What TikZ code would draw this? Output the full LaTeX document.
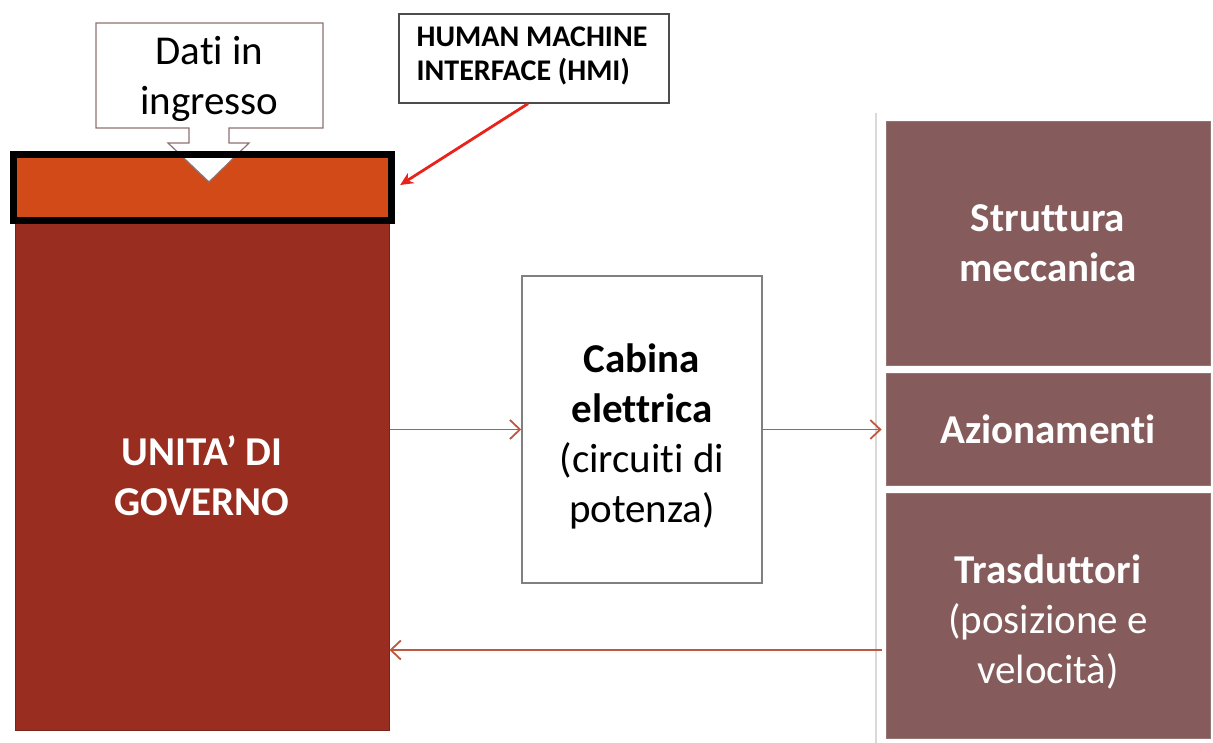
\documentclass[tikz,border=0pt]{standalone}
\usepackage{fontspec}
\setmainfont{Carlito}[Ligatures=NoCommon]
\usetikzlibrary{arrows.meta}
\definecolor{govred}{HTML}{992D1F}
\definecolor{hmiorange}{HTML}{D14A17}
\definecolor{plant}{HTML}{855C5B}
\definecolor{flow}{HTML}{C0573F}
\definecolor{calloutedge}{HTML}{8E7272}
\definecolor{hmired}{HTML}{E8231C}
\begin{document}
\begin{tikzpicture}[x=1pt,y=-1pt,
  big/.style={font=\fontsize{41}{50}\selectfont, align=center},
  block/.style={rectangle, inner sep=0pt},
  plantbox/.style={block, fill=plant, draw=plant!85!white, line width=0.8pt,
    minimum width=324pt, text=white, big},
  flowarrow/.style={draw=flow, line width=1.8pt,
    -{Straight Barb[length=10pt,width=19pt,line width=1.8pt]}},
  hmiarrow/.style={draw=hmired, line width=2.8pt,
    -{Stealth[length=13pt,width=12pt]}}]
\useasboundingbox (0,0) rectangle (1213,743);

% control unit
\node[block, fill=govred, draw=govred!80!black, line width=1pt,
  minimum width=374pt, minimum height=508pt, text=white, big] (gov)
  at (202,476) {\bfseries UNITA’ DI\\\bfseries GOVERNO};

% HMI strip (fill first, frame drawn after the callout)
\node[block, fill=hmiorange, minimum width=378pt, minimum height=66pt]
  (hmibar) at (202.5,187.5) {};

% input callout
\path[fill=white, draw=calloutedge, line width=1.2pt, line join=miter]
  (96,23) -- (323,23) -- (323,128) -- (229,128) -- (229,143) -- (249,143)
  -- (209,182) -- (168,143) -- (189,143) -- (189,128) -- (96,128) -- cycle;
\node[big] (dati) at (209.5,79) {Dati in\\ingresso};

\draw[line width=7pt] (hmibar.north west) rectangle (hmibar.south east);

% HMI label
\node[block, draw=black!70, line width=1.3pt, minimum width=270pt,
  minimum height=89pt] (hmi) at (534,58.5) {};
\node[align=left, font=\fontsize{30}{34}\selectfont\bfseries, inner sep=0pt]
  (hmitext) at (532,56) {HUMAN MACHINE\\INTERFACE (HMI)};
\draw[hmiarrow] ([xshift=-6pt]hmi.south) -- ([xshift=8.5pt,yshift=2.5pt]hmibar.east);

% power cabinet
\node[block, draw=black!50, line width=1.5pt, minimum width=240pt,
  minimum height=307pt] (cab) at (642,429.5) {};
\node[big] (cabtext) at (642,436)
  {\bfseries Cabina\\\bfseries elettrica\\(circuiti di\\potenza)};

% machine column
\draw[black!15, line width=2pt] (876,113) -- (876,743);
\node[plantbox, minimum height=244pt] (stru) at (1048,243)
  {\bfseries Struttura\\\bfseries meccanica};
\node[plantbox, minimum height=112pt] (azi) at (1048,429)
  {\bfseries Azionamenti};
\node[plantbox, minimum height=245pt] (tra) at (1048,615.5) {};
\node[big, text=white] (tratext) at (1048,622)
  {\bfseries Trasduttori\\(posizione e\\velocità)};

% signal flow
\draw[flowarrow] (gov.east |- cab.west) -- (cab.west);
\draw[flowarrow, shorten >=4pt] (cab.east) -- (cab.east -| azi.west);
\coordinate (fb) at (882,650);
\draw[flowarrow] (fb) -- (fb -| gov.east);
\end{tikzpicture}
\end{document}
